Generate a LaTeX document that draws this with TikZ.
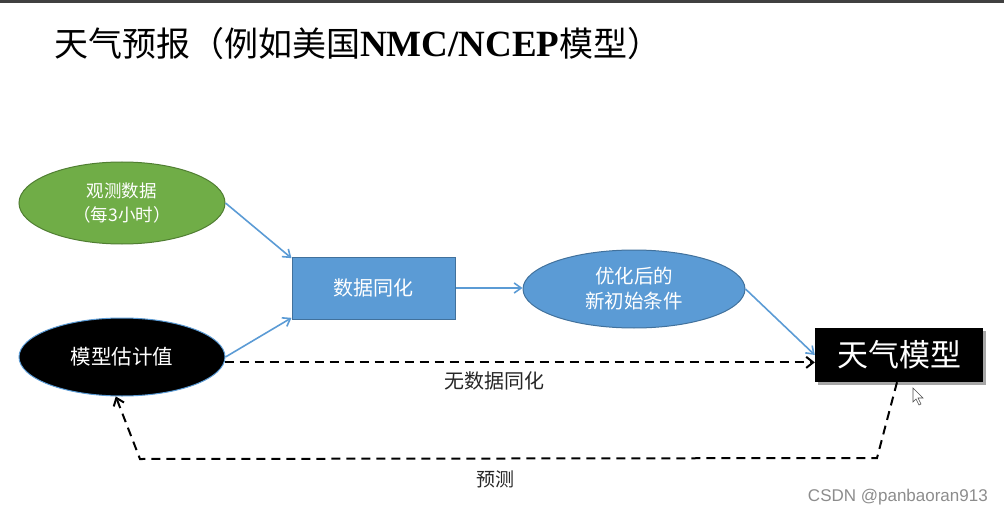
\documentclass[tikz,border=0pt]{standalone}
\usepackage{fontspec}
\setmainfont{Liberation Serif}
\newfontfamily\cjk{Noto Sans CJK SC}
\newfontfamily\lsans{Liberation Sans}
\usetikzlibrary{shapes.geometric,arrows.meta}
\definecolor{pgreen}{HTML}{70AD47}
\definecolor{pgreenb}{HTML}{507E32}
\definecolor{pblue}{HTML}{5B9BD5}
\definecolor{pblueb}{HTML}{41719C}
\definecolor{parrow}{HTML}{5B9BD5}
\begin{document}
\begin{tikzpicture}[x=1pt,y=-1pt,
  ell/.style={ellipse,draw,line width=1pt,text=white,align=center,inner sep=0pt},
  bluearrow/.style={draw=parrow,line width=1.6pt,-{Straight Barb[length=7pt,width=10pt]}},
  dasharrow/.style={draw=black,line width=2pt,dash pattern=on 9pt off 6pt,-{Straight Barb[length=7pt,width=11pt]}},
  lbl/.style={font=\cjk\fontsize{20}{22}\selectfont,text=black!85}]
\useasboundingbox (0,0) rectangle (1004,516);
\fill[black!75] (0,0) rectangle (1004,3);
\node[anchor=west,inner sep=0pt,font=\fontsize{34}{38}\selectfont] (title) at (54,44)
  {{\cjk 天气预报（例如美国}{\fontsize{37}{40}\selectfont\textbf{NMC/NCEP}}{\cjk 模型）}};
\node[ell,fill=pgreen,draw=pgreenb,minimum width=206pt,minimum height=82pt,
  font=\cjk\fontsize{17.5}{24}\selectfont] (obs) at (122,203) {观测数据\\（每3小时）};
\node[ell,fill=black,draw=pblue,minimum width=206pt,minimum height=78pt,
  font=\cjk\fontsize{20.5}{22}\selectfont] (est) at (122,357) {模型估计值};
\node[rectangle,draw=pblueb,fill=pblue,line width=1pt,minimum width=163pt,minimum height=62pt,
  text=white,font=\cjk\fontsize{20}{22}\selectfont] (da) at (373.5,288) {数据同化};
\node[ell,fill=pblue,draw=pblueb,minimum width=222pt,minimum height=78pt,
  font=\cjk\fontsize{19.5}{25}\selectfont] (init) at (634,289) {优化后的\\新初始条件};
\fill[black!35] (818,331) rectangle (986,385);
\node[rectangle,fill=black,minimum width=168pt,minimum height=54pt,inner sep=0pt,
  text=white,font=\cjk\fontsize{31}{34}\selectfont] (model) at (899,355) {天气模型};
\draw[bluearrow] (obs.east) -- (da.160);
\draw[bluearrow] (est.east) -- (da.200);
\draw[bluearrow] (da.east) -- (da.east -| init.west);
\draw[bluearrow] (init.east) -- (model.west);
\coordinate (b1) at (877,458);
\coordinate (b2) at (140,459);
\draw[dasharrow] (est.-3) -- (model.west |- est.-3);
\draw[dasharrow] (model.south) ++(-2,0) coordinate (mb) -- (b1) -- (b2) -- (est.-99);
\node[lbl] (nod) at (494,381) {无数据同化};
\node[lbl,font=\cjk\fontsize{19}{22}\selectfont] (pred) at (495,479) {预测};
\node[anchor=east,inner sep=0pt,text=black!45,font=\lsans\fontsize{17}{19}\selectfont] (wm) at (988,497) {CSDN @panbaoran913};
\draw[black!70,fill=white,line width=0.6pt] (913,388) -- (913,402) -- (916,399) -- (919,405) -- (921,404) -- (918,398) -- (923,398) -- cycle;
\end{tikzpicture}
\end{document}
